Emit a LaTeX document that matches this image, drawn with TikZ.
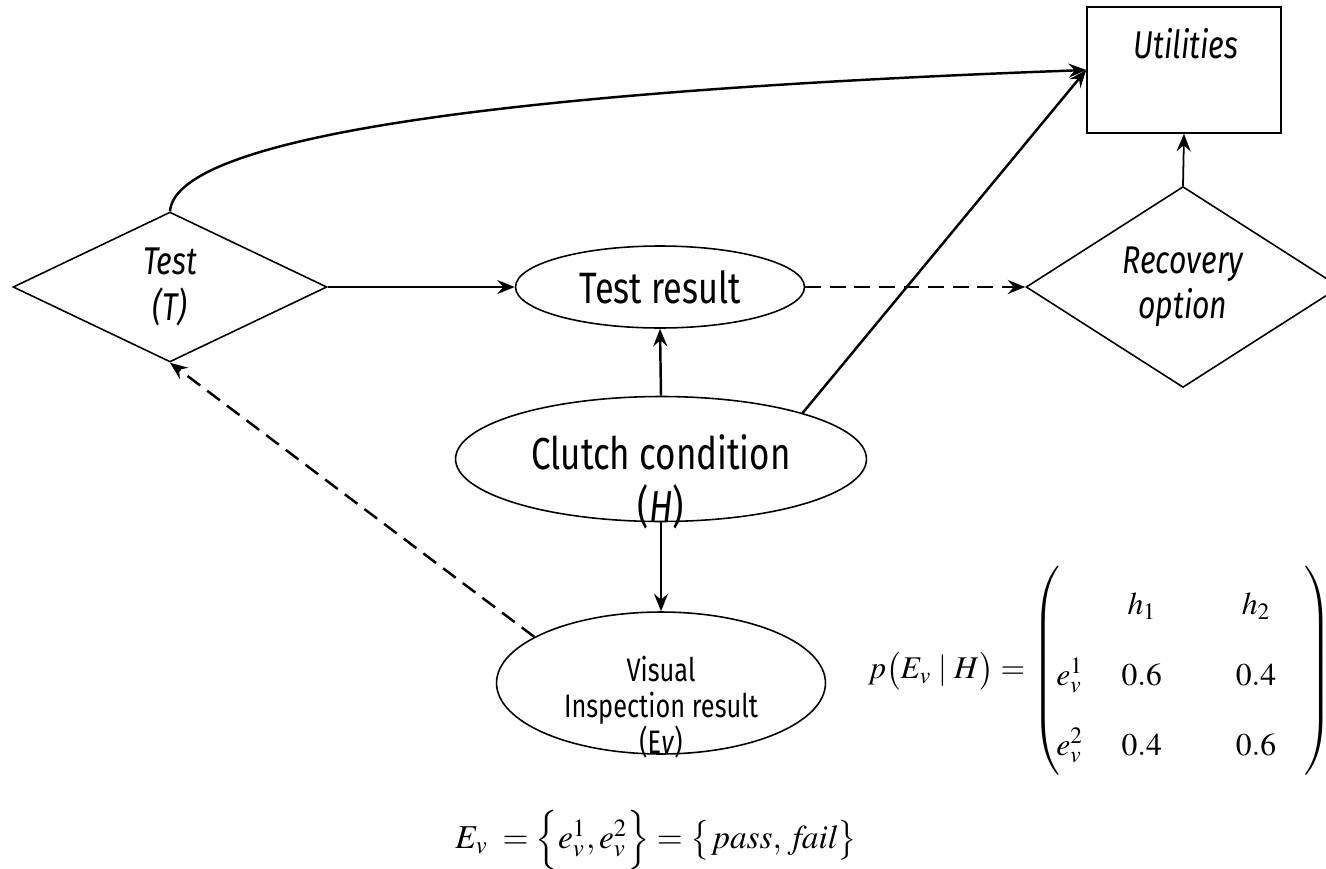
\documentclass[tikz,border=0pt]{standalone}
\usepackage{mathptmx}
\usepackage[no-math]{fontspec}
\setmainfont{Fira Sans}[FakeStretch=0.78]
\usetikzlibrary{shapes.geometric,arrows.meta}
\begin{document}
\begin{tikzpicture}[x=0.02cm,y=-0.02cm,
  shapeline/.style={draw, line width=0.9pt},
  diam/.style={shapeline, diamond, minimum width=6.28cm, minimum height=3cm, inner sep=0pt,
    align=center, font=\fontsize{22}{26}\selectfont\itshape},
  ell/.style={shapeline, ellipse, inner sep=0pt},
  conn/.style={line width=1.4pt, -{Stealth[length=10pt,width=8pt,inset=3.5pt]}},
  dconn/.style={conn, dash pattern=on 9pt off 5pt},
  txt/.style={align=center, inner sep=0pt}
]
\useasboundingbox (0,0) rectangle (1326,869);

% nodes
\node[diam] (tt) at (170,287) {Test\\(\textit{T})};
\node[diam] (rc) at (1183,287) {Recovery\\option};
\node[shapeline, rectangle, minimum width=3.88cm, minimum height=2.52cm] (ut) at (1184,70) {};
\node[txt, font=\fontsize{22}{26}\selectfont\itshape] (uttext) at (1186,44) {Utilities};
\node[ell, minimum width=5.78cm, minimum height=1.64cm, font=\fontsize{25}{30}\selectfont] (tr) at (660,287) {Test result};
\node[ell, minimum width=8.22cm, minimum height=2.5cm] (cc) at (661,459) {};
\node[txt, font=\fontsize{25.5}{30}\selectfont] (cctext) at (661,482) {Clutch condition\\(\textit{H})};
\node[ell, minimum width=6.58cm, minimum height=2.84cm] (vi) at (661,683) {};
\node[txt, font=\fontsize{18.5}{20.5}\selectfont] (vitext) at (661,707) {Visual\\Inspection result\\(E\textit{v})};

% equations
\node[txt, font=\fontsize{18}{21}\selectfont] (peq) at (1100,671) {$
  p\bigl(E_v \mid H\bigr) = \left(\renewcommand{\arraystretch}{1.9}
  \begin{array}{@{\hspace{-2pt}}l@{\hspace{22pt}}c@{\hspace{42pt}}c@{\hspace{16pt}}}
   & h_1 & h_2\\
  e_v^1 & 0.6 & 0.4\\
  e_v^2 & 0.4 & 0.6
  \end{array}\right)$};
\node[txt, font=\fontsize{19}{23}\selectfont] (eeq) at (656,840) {$
  E_v\; = \Bigl\{e_v^1, e_v^2\Bigr\} = \bigl\{\,\mathit{pass},\ \mathit{fail}\bigr\}$};

% connectors
\draw[conn] (tt.north) .. controls (175,150) and (400,95) .. (ut.west);
\draw[conn] (tt.east) -- (tr.west);
\draw[dconn] (tr.east) -- (rc.west);
\draw[conn] (cc.north) -- (tr.south);
\draw[conn] (cc.18) -- (ut.west);
\draw[conn, line width=1pt] (rc.north) -- (ut.south);
\draw[conn] (cc.south) -- (vi.north);
\draw[dconn] (vi.160) -- (tt.south);
\end{tikzpicture}
\end{document}
